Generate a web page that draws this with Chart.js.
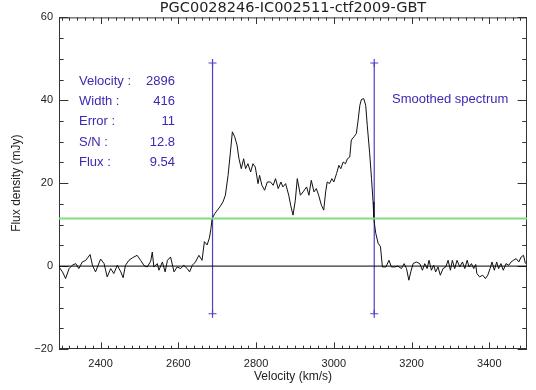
<!DOCTYPE html>
<html><head><meta charset="utf-8">
<script src="https://cdn.jsdelivr.net/npm/chart.js@4/dist/chart.umd.min.js"></script>
<style>html,body{margin:0;padding:0;background:#fff}canvas{display:block}</style>
</head><body>
<canvas id="c" width="536" height="390"></canvas>
<script>
const titleText = "PGC0028246-IC002511-ctf2009-GBT";
const xTitle = "Velocity (km/s)";
const yTitle = "Flux density (mJy)";
const velocity = [
2293,2302,2310,2319,2327,2336,2344,2353,2362,2373,2379,2387,2400,2409,2417,2426,2434,2443,2452,2458,
2464,2473,2482,2494,2503,2512,2520,2529,2533,2537,2546,2550,2559,2566,2572,2580,2589,2597,2606,2614,
2623,2629,2636,2644,2653,2661,2667,2674,2680,
2684,2687,2694,2707,2715,2721,2728,2734,2739,2745,2751,2756,2762,2768,2773,2779,2786,2792,2798,2805,
2809,2815,2822,2829,2837,2844,2850,2857,2864,2869,2876,2884,2889,2895,2901,2906,2914,2921,2930,2936,
2942,2949,2955,2961,2968,2974,2979,2983,2989,2995,3000,3007,3013,3018,3024,3030,3035,3041,3045,3052,
3058,3062,3067,3071,3077,3082,3086,3092,3097,3101,3103,
3105,3108,3114,3120,3125,3134,3142,3148,3157,3165,3174,3181,3187,3193,3198,3204,3212,3221,3228,3234,
3240,3245,3251,3257,3262,3268,3274,3281,3288,3294,3300,3305,3311,3317,3324,3331,3337,3343,3348,3354,
3360,3365,3368,3375,3383,3390,3396,3402,3407,3413,3419,3424,3430,3436,3443,3450,3456,3462,3469,3476,
3482,3488,3493
];
const flux = [
-0.2,-1.4,-3.0,-0.6,0.2,0.6,-0.6,1.0,1.4,2.8,0.2,-1.4,1.7,0.6,-2.6,-0.6,-1.8,0.2,-1.4,-2.8,
0.2,1.4,2.0,2.6,1.4,0.1,-0.2,1.2,3.4,-0.2,0.6,-1.0,1.0,-1.4,1.4,2.2,-1.4,-0.2,-0.6,0.2,
-0.6,-1.4,0.2,1.0,2.6,1.4,5.9,5.1,6.8,
9.1,11.5,12.7,14.3,15.5,17.1,21.9,27.5,32.4,31.2,29.2,25.9,23.5,25.9,23.5,24.7,22.7,24.7,23.9,19.9,
21.9,19.5,18.3,20.3,20.3,19.5,21.1,18.7,20.3,19.1,19.9,17.1,14.7,12.3,15.9,21.1,17.1,17.9,19.1,17.1,
20.7,17.9,18.7,17.1,14.7,13.5,17.9,20.3,19.9,21.1,20.3,22.3,24.3,23.5,25.1,24.7,25.9,26.3,30.4,31.2,
32.0,34.8,38.8,40.2,40.4,38.8,34.0,27.5,21.1,15.5,11.5,
9.9,7.9,5.5,4.7,-0.2,-0.2,1.4,-0.2,-0.2,0.0,-0.6,0.6,-0.6,-3.4,-1.4,0.6,1.0,0.6,-1.0,0.6,
-0.6,1.4,-1.0,0.2,-1.4,-0.2,-2.2,-0.6,-0.2,1.4,-1.0,1.4,-0.6,1.4,-0.2,1.0,-0.6,1.4,-0.2,0.6,
-0.6,0.4,-1.8,-2.6,-2.2,-3.0,-2.2,-0.6,1.0,-1.0,1.0,-0.6,0.6,-1.0,0.6,0.2,1.0,1.4,1.8,1.0,
2.2,2.6,0.6
];
const xTicks = [2400, 2600, 2800, 3000, 3200, 3400];
const yTicks = [-20, 0, 20, 40, 60];
const xRange = [2293, 3497];
const yRange = [-20, 60];
const lineVelocities = [2688, 3104];
const lineFluxRange = [-11.5, 49];
const thresholdLevel = 11.5;
const infoLabels = ["Velocity :", "Width :", "Error :", "S/N :", "Flux :"];
const infoValues = ["2896", "416", "11", "12.8", "9.54"];
const noteText = "Smoothed spectrum";

const BLUE_TEXT = '#3a2ab0';
const BLUE_LINE = '#5040c4';
const AXIS = '#333';

const framePlugin = {
  id: 'frame',
  beforeDatasetsDraw(chart) {
    const {ctx, chartArea: a, scales: {x, y}} = chart;
    const W = a.right - a.left, H = a.bottom - a.top;
    ctx.save();
    ctx.strokeStyle = AXIS; ctx.lineWidth = 1;
    ctx.strokeRect(a.left + 0.5, a.top + 0.5, W - 1, H - 1);
    ctx.beginPath();
    for (let v = Math.ceil(x.min / 20) * 20; v <= x.max; v += 20) {
      const px = Math.round(x.getPixelForValue(v)) + 0.5;
      const L = (v % 200 === 0) ? 0.02 * H : 0.01 * H;
      ctx.moveTo(px, a.bottom); ctx.lineTo(px, a.bottom - L);
      ctx.moveTo(px, a.top); ctx.lineTo(px, a.top + L);
    }
    for (let v = y.min; v <= y.max; v += 5) {
      const py = Math.round(y.getPixelForValue(v)) + 0.5;
      const L = (v % 20 === 0) ? 0.02 * W : 0.01 * W;
      ctx.moveTo(a.left, py); ctx.lineTo(a.left + L, py);
      ctx.moveTo(a.right, py); ctx.lineTo(a.right - L, py);
    }
    ctx.stroke();
    ctx.restore();
  }
};

const infoPlugin = {
  id: 'info',
  afterDatasetsDraw(chart) {
    const {ctx, chartArea: a} = chart;
    ctx.save();
    ctx.fillStyle = BLUE_TEXT;
    ctx.font = '13px "Liberation Sans", Arial, sans-serif';
    ctx.textBaseline = 'middle';
    infoLabels.forEach((t, i) => {
      const yy = a.top + 64 + i * 20.2;
      ctx.textAlign = 'left';
      ctx.fillText(t, a.left + 20, yy);
      ctx.textAlign = 'right';
      ctx.fillText(infoValues[i], a.left + 116, yy);
    });
    ctx.textAlign = 'left';
    ctx.fillText(noteText, a.left + 333, a.top + 82);
    ctx.restore();
  }
};

const spectrum = velocity.map((v, i) => ({x: v, y: flux[i]}));
const tickFont = {family: '"Liberation Sans", Arial, sans-serif', size: 11};

new Chart(document.getElementById('c').getContext('2d'), {
  type: 'scatter',
  data: {
    datasets: [
      {data: [{x: xRange[0], y: thresholdLevel}, {x: xRange[1], y: thresholdLevel}], showLine: true,
       borderColor: '#80e080', borderWidth: 2, pointRadius: 0},
      {data: [{x: xRange[0], y: 0}, {x: xRange[1], y: 0}], showLine: true,
       borderColor: '#000', borderWidth: 1, pointRadius: 0},
      {data: spectrum, showLine: true, borderColor: '#111', borderWidth: 1, pointRadius: 0, tension: 0},
      ...lineVelocities.map(v => ({
        data: [{x: v, y: lineFluxRange[0]}, {x: v, y: lineFluxRange[1]}], showLine: true,
        borderColor: BLUE_LINE, borderWidth: 1.2, pointStyle: 'cross', pointRadius: 4,
        pointBorderColor: BLUE_LINE, pointBackgroundColor: BLUE_LINE, pointBorderWidth: 1.2
      }))
    ]
  },
  options: {
    responsive: false, animation: false, devicePixelRatio: 1,
    layout: {padding: {top: 0, right: 9, left: 0, bottom: 0}},
    plugins: {
      legend: {display: false}, tooltip: {enabled: false},
      title: {display: true, fullSize: false, text: titleText, color: '#222',
              font: {family: '"DejaVu Sans", sans-serif', size: 14.5, weight: 'normal'},
              padding: {top: 0, bottom: 0}}
    },
    scales: {
      x: {
        type: 'linear', min: xRange[0], max: xRange[1],
        grid: {display: false, drawTicks: false}, border: {display: false},
        afterBuildTicks: s => { s.ticks = xTicks.map(v => ({value: v})); },
        afterFit: s => { s.height = 41; },
        ticks: {color: '#222', font: tickFont, padding: 8, maxRotation: 0, autoSkip: false,
                callback: v => String(v)},
        title: {display: true, text: xTitle, color: '#222',
                font: {family: '"Liberation Sans", Arial, sans-serif', size: 12},
                padding: {top: 0, bottom: 5.8}}
      },
      y: {
        type: 'linear', min: yRange[0], max: yRange[1],
        grid: {display: false, drawTicks: false}, border: {display: false},
        afterBuildTicks: s => { s.ticks = yTicks.map(v => ({value: v})); },
        afterFit: s => { s.width = 59; },
        ticks: {color: '#222', font: tickFont, padding: 6,
                callback: v => String(v).replace('-', '\u2212')},
        title: {display: true, text: yTitle, color: '#222',
                font: {family: '"Liberation Sans", Arial, sans-serif', size: 12},
                padding: {top: 9.8, bottom: 0}}
      }
    }
  },
  plugins: [framePlugin, infoPlugin]
});
</script>
</body></html>
